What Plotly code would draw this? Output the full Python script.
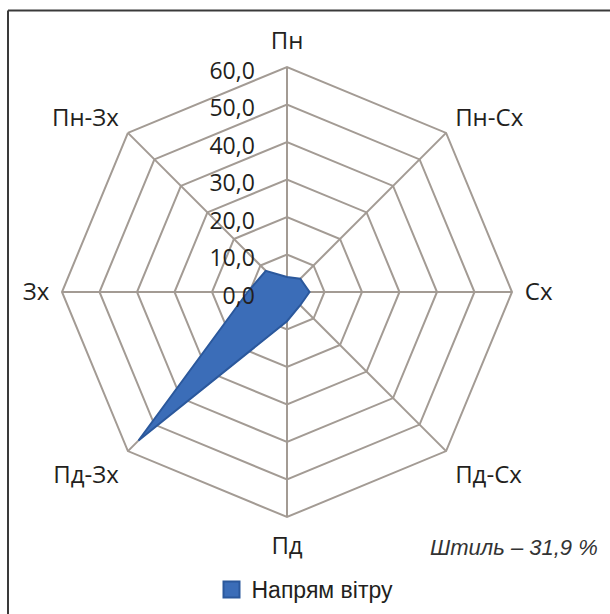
"""Wind rose radar chart (Plotly)."""

import plotly.graph_objects as go

directions = ["Пн", "Пн-Сх", "Сх", "Пд-Сх", "Пд", "Пд-Зх", "Зх", "Пн-Зх"]
wind_share = [4.0, 5.0, 6.0, 5.0, 7.8, 56.0, 10.5, 8.0]
radial_ticks = [0, 10, 20, 30, 40, 50, 60]
radial_tick_labels = ["0,0", "10,0", "20,0", "30,0", "40,0", "50,0", "60,0"]
series_name = "Напрям вітру"
calm_note = "Штиль – 31,9 %"

GRID = "#a39b94"
FILL = "#3b6db8"
EDGE = "#2b589c"
TEXT = "#231f20"
SANS = "Liberation Sans, Arial, sans-serif"

W, H = 610, 614
cx, cy, rad = 287, 292, 225

fig = go.Figure()
fig.add_trace(
    go.Scatterpolar(
        r=wind_share + wind_share[:1],
        theta=directions + directions[:1],
        mode="lines",
        fill="toself",
        fillcolor=FILL,
        line={"color": EDGE, "width": 2},
        name=series_name,
        showlegend=False,
        hoverinfo="skip",
    )
)
# legend entry drawn as a square swatch, like the spreadsheet original
fig.add_trace(
    go.Scatterpolar(
        r=[None],
        theta=[None],
        mode="markers",
        marker={"symbol": "square", "size": 22, "color": FILL, "line": {"color": EDGE, "width": 2}},
        name=series_name,
        hoverinfo="skip",
    )
)

fig.update_layout(
    width=W,
    height=H,
    paper_bgcolor="white",
    plot_bgcolor="white",
    margin={"l": 0, "r": 0, "t": 0, "b": 0},
    font={"family": "Open Sans, sans-serif", "color": TEXT},
    polar={
        "domain": {
            "x": [(cx - rad) / W, (cx + rad) / W],
            "y": [(H - cy - rad) / H, (H - cy + rad) / H],
        },
        "bgcolor": "white",
        "gridshape": "linear",
        "angularaxis": {
            "direction": "clockwise",
            "rotation": 90,
            "categoryorder": "array",
            "categoryarray": directions,
            "gridcolor": GRID,
            "gridwidth": 2,
            "linecolor": GRID,
            "linewidth": 2,
            "showline": True,
            "ticks": "outside",
            "ticklen": 7,
            "tickcolor": "rgba(0,0,0,0)",
            "tickfont": {"size": 24, "color": TEXT},
        },
        "radialaxis": {
            "range": [0, 60],
            "angle": 90,
            "side": "counterclockwise",
            "tickvals": radial_ticks,
            "ticktext": radial_tick_labels,
            "ticks": "outside",
            "ticklen": 11,
            "tickcolor": "rgba(0,0,0,0)",
            "tickfont": {"size": 23, "color": TEXT},
            "gridcolor": GRID,
            "gridwidth": 2,
            "showline": False,
            "layer": "above traces",
        },
    },
    legend={
        "orientation": "h",
        "x": 0.5,
        "xanchor": "center",
        "y": 0.005,
        "yanchor": "bottom",
        "font": {"size": 23, "family": SANS, "color": TEXT},
        "bgcolor": "rgba(0,0,0,0)",
    },
    annotations=[
        {
            "text": f"<i>{calm_note}</i>",
            "xref": "paper",
            "yref": "paper",
            "x": 600 / W,
            "y": 1 - 547 / H,
            "xanchor": "right",
            "yanchor": "middle",
            "showarrow": False,
            "font": {"size": 22, "family": SANS, "color": "#333333"},
        }
    ],
    shapes=[
        {
            "type": "line",
            "xref": "paper",
            "yref": "paper",
            "x0": 8 / W,
            "x1": 1,
            "y0": 1 - 10.5 / H,
            "y1": 1 - 10.5 / H,
            "line": {"color": "#3a3a3a", "width": 2},
        },
        {
            "type": "line",
            "xref": "paper",
            "yref": "paper",
            "x0": 8 / W,
            "x1": 8 / W,
            "y0": 0,
            "y1": 1 - 10.5 / H,
            "line": {"color": "#3a3a3a", "width": 2},
        },
    ],
)

fig.write_html(
    "out.html",
    config={"displayModeBar": False},
    post_script="document.body.style.margin='0';",
)
